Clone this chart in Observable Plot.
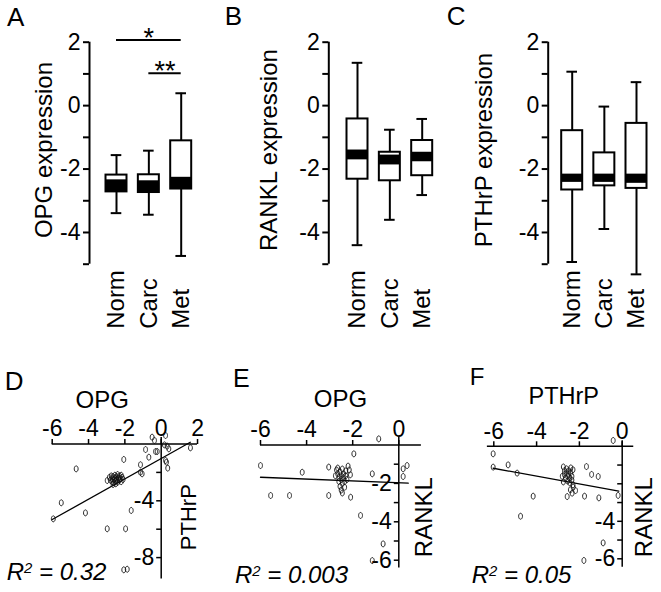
<!DOCTYPE html>
<html>
<head>
<meta charset="utf-8">
<script src="https://cdn.jsdelivr.net/npm/d3@7"></script>
<script src="https://cdn.jsdelivr.net/npm/@observablehq/plot@0.6"></script>
<style>
  body { margin: 0; background: #fff; }
  #fig { position: relative; width: 661px; height: 592px; overflow: hidden; background: #fff;
         font-family: "Liberation Sans", Arial, sans-serif; color: #000; }
  .panel { position: absolute; }
  .lbl { position: absolute; line-height: 1; white-space: nowrap; }
  .lbl sup { font-size: 0.62em; vertical-align: 0; position: relative; top: -0.5em; line-height: 0; }
</style>
</head>
<body>
<div id="fig"></div>
<script>
// ---------------- DATA ----------------
const groups = ["Norm", "Carc", "Met"];
const boxTicks = [-5, -4, -3, -2, -1, 0, 1, 2];

// Panel A: OPG expression
const opgLow     = [-3.39, -3.44, -4.74];
const opgQ1      = [-2.72, -2.74, -2.63];
const opgMedLow  = [-2.72, -2.74, -2.63];
const opgMedHigh = [-2.34, -2.37, -2.26];
const opgQ3      = [-2.19, -2.18, -1.11];
const opgHigh    = [-1.56, -1.42, 0.39];
const sigFrom  = [0, 1];
const sigTo    = [2, 2];
const sigLevel = [2.07, 1.02];
const sigText  = ["*", "**"];

// Panel B: RANKL expression
const ranklLow     = [-4.40, -3.60, -2.82];
const ranklQ1      = [-2.32, -2.37, -2.21];
const ranklMedLow  = [-1.71, -1.87, -1.77];
const ranklMedHigh = [-1.40, -1.56, -1.47];
const ranklQ3      = [-0.42, -1.47, -1.10];
const ranklHigh    = [1.35, -0.76, -0.42];

// Panel C: PTHrP expression
const pthLow     = [-4.93, -3.89, -5.32];
const pthQ1      = [-2.66, -2.53, -2.61];
const pthMedLow  = [-2.42, -2.42, -2.45];
const pthMedHigh = [-2.16, -2.16, -2.16];
const pthQ3      = [-0.79, -1.49, -0.56];
const pthHigh    = [1.07, -0.03, 0.74];

// Panel D: OPG (x) vs PTHrP (y)
const dOpg = [-0.50, -0.37, 0.24, 0.18, 0.33, 0.42, -0.86, -0.68, -0.31, -0.22, 0.24, 0.29, 0.36, -2.06,
  -4.68, -1.14, -1.14, -1.05, -2.97, -5.50, -4.17, -1.65, -5.94, -2.97, -1.96, -2.06, -1.87, 1.61,
  -2.85, -2.80, -2.75, -2.70, -2.70, -2.65, -2.60, -2.60, -2.55, -2.55, -2.50, -2.45, -2.45, -2.40,
  -2.40, -2.35, -2.30, -2.30, -2.25, -2.20, -2.15, -2.10, -2.50, -2.65, -2.20];
const dPthrp = [0.48, 0.25, 0.60, -0.06, -0.15, -0.34, -0.39, -0.93, -0.53, -0.53, -1.16, -1.28, -1.70, -1.09,
  -1.75, -1.46, -1.99, -2.10, -2.57, -4.14, -4.85, -4.68, -5.27, -5.97, -5.97, -8.86, -8.82, -0.27,
  -2.35, -2.55, -2.25, -2.45, -2.65, -2.30, -2.50, -2.70, -2.20, -2.40, -2.60, -2.30, -2.50, -2.70,
  -2.15, -2.40, -2.55, -2.25, -2.45, -2.65, -2.35, -2.50, -2.80, -2.85, -2.20];
const dFitX = [-6.0, 1.6];
const dFitY = [-5.32, 0.12];

// Panel E: OPG (x) vs RANKL (y)
const eOpg = [-0.87, -1.95, -6.00, -4.19, -3.04, -1.15, 0.19, 0.36, 0.19, -5.56, -4.74, -3.04, -2.09, -1.66,
  -0.68, -1.15,
  -2.70, -2.65, -2.60, -2.60, -2.55, -2.50, -2.50, -2.45, -2.45, -2.40, -2.40, -2.35, -2.30, -2.30,
  -2.55, -2.50, -2.45, -2.35, -2.20, -2.15, -2.10, -2.25, -2.65, -2.75];
const eRankl = [0.32, -0.46, -1.07, -1.42, -1.15, -1.50, -1.24, -1.07, -1.64, -2.63, -2.63, -2.63, -2.72, -3.67,
  -5.15, -6.02,
  -1.30, -1.50, -1.70, -1.90, -1.40, -1.60, -1.80, -2.00, -1.25, -1.50, -1.70, -1.90, -1.35, -1.60,
  -2.15, -2.35, -2.50, -2.20, -1.10, -1.30, -1.55, -1.80, -1.20, -1.60];
const eFitX = [-6.0, 0.41];
const eFitY = [-1.68, -1.99];

// Panel F: PTHrP (x) vs RANKL (y)
const fPthrp = [-0.42, -6.03, -6.03, -5.33, -4.91, -1.67, -1.43, -1.12, -4.16, -2.57, -1.76, -1.09, -0.19, -4.75,
  -0.89, -1.79, -2.29, -2.18, -2.34, -2.42,
  -2.75, -2.70, -2.70, -2.65, -2.60, -2.60, -2.55, -2.55, -2.50, -2.50, -2.45, -2.45, -2.40, -2.40,
  -2.35, -2.35, -2.75, -2.80, -2.30, -2.30];
const fRankl = [0.31, -0.40, -1.11, -0.99, -1.43, -1.08, -1.50, -1.61, -2.66, -2.68, -2.66, -2.75, -2.62, -3.73,
  -5.15, -6.09, -2.18, -2.36, -2.50, -2.32,
  -1.10, -1.30, -1.50, -1.70, -1.20, -1.40, -1.60, -1.85, -1.30, -1.50, -1.70, -1.95, -1.15, -1.40,
  -1.60, -1.80, -1.90, -1.60, -1.25, -2.05];
const fFitX = [-6.03, -0.16];
const fFitY = [-1.17, -2.39];

// ---------------- DRAWING ----------------
const FONT = "'Liberation Sans', Arial, Helvetica, sans-serif";
const fig = document.getElementById("fig");
const baseStyle = { background: "none", fontFamily: FONT, color: "black", overflow: "visible" };

function place(node, left, top) {
  const wrap = document.createElement("div");
  wrap.className = "panel";
  wrap.style.left = left + "px";
  wrap.style.top = top + "px";
  wrap.appendChild(node);
  fig.appendChild(wrap);
}
function addText(html, left, baseline, size, italic) {
  const d = document.createElement("div");
  d.className = "lbl";
  d.style.left = left + "px";
  d.style.top = (baseline - 0.8465 * size) + "px";
  d.style.fontSize = size + "px";
  if (italic) d.style.fontStyle = "italic";
  d.innerHTML = html;
  fig.appendChild(d);
}

function boxPanel(o) {
  const step = (o.c3 - o.c1) / 2;
  const hw = 10.5 / step, cw = 5.3 / step;
  const x0 = 1 + (o.axisPx - o.c1) / step;
  const idx = [0, 1, 2];
  const H = 335;
  const marks = [
    Plot.ruleX([x0], { x: d => d, y1: -5, y2: 2, strokeWidth: 2 }),
    Plot.axisY({ ticks: boxTicks, tickFormat: d => (d % 2 === 0 ? String(d) : ""), tickSize: 6,
      tickPadding: 3, fontSize: 23, strokeWidth: 2, label: null }),
    Plot.text([o.label], { x: x0, y: -1.4, dx: o.labelDx, rotate: -90, fontSize: 24, text: d => d }),
    Plot.ruleX(idx, { x: i => i + 1, y1: i => o.low[i], y2: i => o.high[i], strokeWidth: 2 }),
    Plot.ruleY(idx, { y: i => o.low[i], x1: i => i + 1 - cw, x2: i => i + 1 + cw, strokeWidth: 2 }),
    Plot.ruleY(idx, { y: i => o.high[i], x1: i => i + 1 - cw, x2: i => i + 1 + cw, strokeWidth: 2 }),
    Plot.rect(idx, { x1: i => i + 1 - hw, x2: i => i + 1 + hw, y1: i => o.q1[i], y2: i => o.q3[i], fill: "white" }),
    Plot.rect(idx, { x1: i => i + 1 - hw, x2: i => i + 1 + hw, y1: i => o.medLow[i], y2: i => o.medHigh[i], fill: "black" }),
    Plot.rect(idx, { x1: i => i + 1 - hw, x2: i => i + 1 + hw, y1: i => o.q1[i], y2: i => o.q3[i],
      fill: "none", stroke: "black", strokeWidth: 2 }),
    Plot.text(groups, { x: (d, i) => i + 1, y: -5, dy: 64.6, rotate: -90, textAnchor: "start",
      fontSize: 24, text: d => d })
  ];
  if (o.sig) {
    const s = [0, 1];
    marks.push(
      Plot.ruleY(s, { y: i => sigLevel[i], x1: i => sigFrom[i] + 1, x2: i => sigTo[i] + 1, strokeWidth: 2 }),
      Plot.text(s, { x: i => (sigFrom[i] + sigTo[i]) / 2 + 1, y: i => sigLevel[i], dy: -2,
        text: i => sigText[i], fontSize: 27, lineAnchor: "middle" })
    );
  }
  const svg = Plot.plot({
    width: 220, height: H,
    marginLeft: o.axisPx, marginRight: 5, marginTop: 41.7, marginBottom: H - 263.7,
    x: { type: "linear", domain: [1, 3], range: [o.c1, o.c3], axis: null },
    y: { domain: [-5, 2] },
    style: baseStyle,
    marks
  });
  place(svg, o.left, 0);
}

const tickUp = { draw(ctx, size) { const l = Math.sqrt(size / Math.PI); ctx.moveTo(0, 0); ctx.lineTo(0, -l); } };
const tickLeft = { draw(ctx, size) { const l = Math.sqrt(size / Math.PI); ctx.moveTo(0, 0); ctx.lineTo(-l, 0); } };
const ring = { draw(ctx, size) {
  const ry = Math.sqrt(size / Math.PI), rx = ry * 0.65, k = 0.5523;
  ctx.moveTo(rx, 0);
  ctx.bezierCurveTo(rx, k * ry, k * rx, ry, 0, ry);
  ctx.bezierCurveTo(-k * rx, ry, -rx, k * ry, -rx, 0);
  ctx.bezierCurveTo(-rx, -k * ry, -k * rx, -ry, 0, -ry);
  ctx.bezierCurveTo(k * rx, -ry, rx, -k * ry, rx, 0);
  ctx.closePath();
} };

function scatterPanel(o) {
  const idx = o.xs.map((_, i) => i);
  const svg = Plot.plot({
    width: 220, height: 262, marginLeft: 0, marginRight: 0, marginTop: 0, marginBottom: 0,
    x: { domain: [-6, 0], range: o.xRange, axis: null },
    y: { domain: [0, o.yMin], range: o.yRange, axis: null },
    style: baseStyle,
    marks: [
      Plot.ruleY([0], { y: d => d, x1: o.xExtent[0], x2: o.xExtent[1], strokeWidth: 1.5 }),
      Plot.ruleX([0], { x: d => d, y1: o.yExtent[0], y2: o.yExtent[1], strokeWidth: 1.5 }),
      Plot.dot(o.xTicks, { x: d => d, y: 0, symbol: tickUp, r: 5, stroke: "black", fill: "none", strokeWidth: 1.5 }),
      Plot.dot(o.yTicks, { x: 0, y: d => d, symbol: tickLeft, r: 5, stroke: "black", fill: "none", strokeWidth: 1.5 }),
      Plot.text(o.xLabels, { x: d => d, y: 0, dy: -15, text: d => String(d), fontSize: 23 }),
      Plot.text(o.yLabels, { x: 0, y: d => d, dx: -7, textAnchor: "end", text: d => String(d), fontSize: 23 }),
      Plot.text([o.xTitle], { x: o.xTitleAt, y: 0, dy: o.xTitleDy, text: d => d, fontSize: o.xTitleSize }),
      Plot.text([o.yTitle], { x: 0, y: o.yTitleAt, dx: o.yTitleDx, rotate: -90, text: d => d, fontSize: o.yTitleSize }),
      Plot.line([0, 1], { x: i => o.fitX[i], y: i => o.fitY[i], stroke: "black", strokeWidth: 1.3 }),
      Plot.dot(idx, { x: i => o.xs[i], y: i => o.ys[i], symbol: ring, r: 3, stroke: "#111", fill: "none", strokeWidth: 0.9 })
    ]
  });
  place(svg, o.left, 330);
}

// Box plot panels
boxPanel({ left: 0, axisPx: 89, c1: 116, c3: 180.7, label: "OPG expression", labelDx: -45,
  low: opgLow, q1: opgQ1, medLow: opgMedLow, medHigh: opgMedHigh, q3: opgQ3, high: opgHigh, sig: true });
boxPanel({ left: 220, axisPx: 108.3, c1: 137, c3: 201.7, label: "RANKL expression", labelDx: -59.3,
  low: ranklLow, q1: ranklQ1, medLow: ranklMedLow, medHigh: ranklMedHigh, q3: ranklQ3, high: ranklHigh });
boxPanel({ left: 440, axisPx: 107.7, c1: 131.7, c3: 196, label: "PTHrP expression", labelDx: -63.7,
  low: pthLow, q1: pthQ1, medLow: pthMedLow, medHigh: pthMedHigh, q3: pthQ3, high: pthHigh });

// Scatter panels
scatterPanel({ left: 0, xs: dOpg, ys: dPthrp, fitX: dFitX, fitY: dFitY,
  xRange: [51.7, 160.7], yMin: -8, yRange: [113.5, 227.1],
  xExtent: [-6, 2], yExtent: [0.45, -9.5],
  xTicks: [-6, -4, -2, 0, 2], xLabels: [-6, -4, -2, 0, 2], yTicks: [-2, -4, -6, -8], yLabels: [-4, -8],
  xTitle: "OPG", xTitleAt: -3.25, xTitleDy: -44, xTitleSize: 24,
  yTitle: "PTHrP", yTitleAt: -5.15, yTitleDx: 27.6, yTitleSize: 22 });
scatterPanel({ left: 220, xs: eOpg, ys: eRankl, fitX: eFitX, fitY: eFitY,
  xRange: [40, 178.3], yMin: -6, yRange: [114.5, 229.7],
  xExtent: [-6, 0.98], yExtent: [0.4, -6.4],
  xTicks: [-6, -4, -2, 0], xLabels: [-6, -4, -2, 0], yTicks: [-1, -2, -3, -4, -5, -6], yLabels: [-2, -4, -6],
  xTitle: "OPG", xTitleAt: -2.53, xTitleDy: -45.7, xTitleSize: 24,
  yTitle: "RANKL", yTitleAt: -3.76, yTitleDx: 25.7, yTitleSize: 24 });
scatterPanel({ left: 440, xs: fPthrp, ys: fRankl, fitX: fFitX, fitY: fFitY,
  xRange: [53.3, 181.7], yMin: -6, yRange: [115.8, 228.3],
  xExtent: [-6.3, 0.54], yExtent: [0.3, -6.45],
  xTicks: [-6, -4, -2, 0], xLabels: [-6, -4, -2, 0], yTicks: [-1, -2, -3, -4, -5, -6], yLabels: [-4, -6],
  xTitle: "PTHrP", xTitleAt: -2.73, xTitleDy: -50, xTitleSize: 23.5,
  yTitle: "RANKL", yTitleAt: -3.78, yTitleDx: 22.3, yTitleSize: 24 });

// Panel letters and R² annotations
addText("A", 7, 26, 26);
addText("B", 224.7, 25, 26);
addText("C", 446.7, 25.5, 26);
addText("D", 4.7, 390, 26);
addText("E", 233, 386.7, 25);
addText("F", 469.7, 385, 24);
addText("R<sup>2</sup> = 0.32", 6.7, 580.7, 24, true);
addText("R<sup>2</sup> = 0.003", 235, 583.3, 24, true);
addText("R<sup>2</sup> = 0.05", 471.7, 583.3, 24, true);
</script>
</body>
</html>
